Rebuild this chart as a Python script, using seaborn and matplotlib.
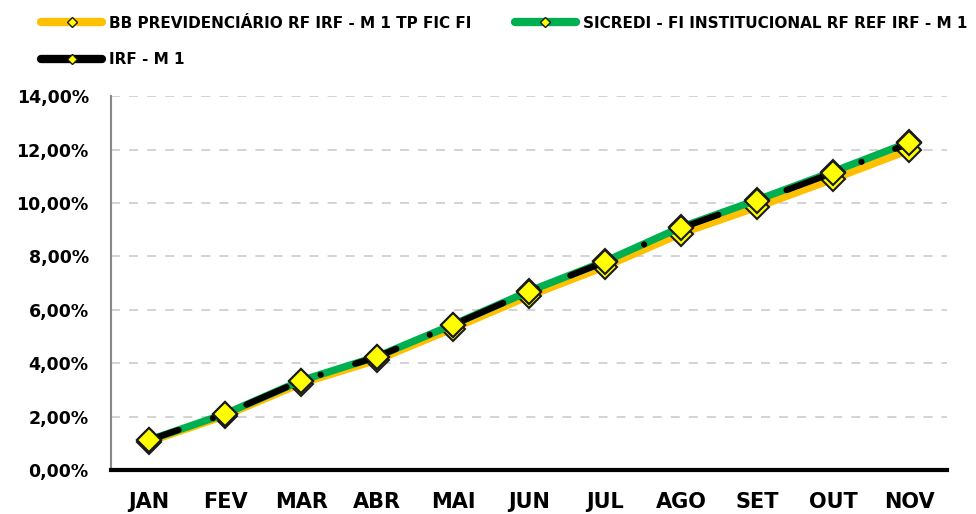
import numpy as np
import pandas as pd
import matplotlib
matplotlib.use("Agg")
import matplotlib.pyplot as plt
from matplotlib.lines import Line2D
from matplotlib.ticker import FuncFormatter, FixedLocator
import seaborn as sns

# data (accumulated return, %)
months = ["JAN", "FEV", "MAR", "ABR", "MAI", "JUN", "JUL", "AGO", "SET", "OUT", "NOV"]
bb = [1.06, 2.03, 3.24, 4.12, 5.30, 6.52, 7.62, 8.86, 9.85, 10.90, 11.99]
sicredi = [1.12, 2.10, 3.35, 4.25, 5.45, 6.70, 7.82, 9.10, 10.12, 11.18, 12.28]
irfm1 = [1.12, 2.10, 3.34, 4.24, 5.44, 6.68, 7.80, 9.07, 10.08, 11.14, 12.24]
names = ["BB PREVIDENCIÁRIO RF IRF - M 1 TP FIC FI",
         "SICREDI - FI INSTITUCIONAL RF REF IRF - M 1",
         "IRF - M 1"]

df = pd.DataFrame({"pos": range(len(months)), "bb": bb, "sicredi": sicredi, "irf": irfm1})

sns.set_style("white")
plt.rcParams["font.family"] = ["DejaVu Sans"]
plt.rcParams["font.weight"] = "bold"
plt.rcParams["text.color"] = "black"
plt.rcParams["xtick.labelcolor"] = "black"
plt.rcParams["ytick.labelcolor"] = "black"

fig = plt.figure(figsize=(9.76, 5.14), dpi=100)
ax = fig.add_axes([0.1137, 0.0856, 0.857, 0.727])

mk = dict(marker="D", markersize=12, markerfacecolor="#FFFF00",
          markeredgecolor="#1a1a1a", markeredgewidth=1.5)

sns.lineplot(data=df, x="pos", y="bb", ax=ax, color="#FFC000", linewidth=5.3,
             solid_capstyle="round", **mk)
sns.lineplot(data=df, x="pos", y="sicredi", ax=ax, color="#00B050", linewidth=5.3,
             solid_capstyle="round", **mk)
sns.lineplot(data=df, x="pos", y="irf", ax=ax, color="black", linewidth=4.5,
             linestyle=(2, (7, 5.8, 0.01, 5.8)), dash_capstyle="round", **mk)

# axes
ax.set_xlim(-0.5, len(months) - 0.5)
ax.set_ylim(0, 14)
ax.set_xlabel("")
ax.set_ylabel("")
ax.set_yticks(np.arange(0, 15, 2))
ax.yaxis.set_major_formatter(FuncFormatter(lambda v, p: f"{v:.2f}%".replace(".", ",")))
ax.set_xticks(range(len(months)))
ax.set_xticklabels(months)
ax.xaxis.set_minor_locator(FixedLocator(np.arange(-0.5, len(months), 1)))
ax.tick_params(axis="x", which="major", length=0, pad=16, labelsize=15, labelcolor="black")
ax.tick_params(axis="x", which="minor", length=7, width=2.5, color="black", direction="out")
ax.tick_params(axis="y", length=5, width=1.2, color="#888888", labelsize=12.5, pad=11,
               labelcolor="black")
for lab in ax.get_xticklabels() + ax.get_yticklabels():
    lab.set_fontweight("bold")

ax.grid(axis="y", color="#d0d0d0", linestyle=(0, (5, 5)), linewidth=1.3)
ax.set_axisbelow(True)
for s in ["top", "right"]:
    ax.spines[s].set_visible(False)
ax.spines["left"].set_color("#888888")
ax.spines["left"].set_linewidth(1.5)
ax.spines["bottom"].set_color("black")
ax.spines["bottom"].set_linewidth(3)

# legend
lmk = dict(marker="D", markersize=5, markerfacecolor="#FFFF00", markeredgecolor="#1a1a1a",
           markeredgewidth=1)
h_bb = Line2D([], [], color="#FFC000", linewidth=6, solid_capstyle="round", **lmk)
h_sc = Line2D([], [], color="#00B050", linewidth=6, solid_capstyle="round", **lmk)
h_irf = Line2D([], [], color="black", linewidth=6, solid_capstyle="round", **lmk)
leg = fig.legend([h_bb, h_irf, h_sc], [names[0], names[2], names[1]], ncol=2,
                 loc="upper left", bbox_to_anchor=(0.026, 1.0), frameon=False,
                 prop={"weight": "bold", "size": 11}, handlelength=4.0,
                 handletextpad=0.45, columnspacing=2.85, labelspacing=1.4,
                 borderaxespad=0.62)
for t in leg.get_texts():
    t.set_color("black")

fig.savefig("out.png", dpi=100)
